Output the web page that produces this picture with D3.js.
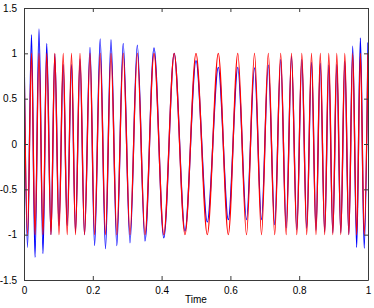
<!DOCTYPE html>
<html>
<head>
<meta charset="utf-8">
<script src="https://cdnjs.cloudflare.com/ajax/libs/d3/7.8.5/d3.min.js"></script>
<style>
  body { margin: 0; background: #fff; }
  svg { display: block; font-family: "Liberation Sans", Arial, sans-serif; }
</style>
</head>
<body>
<svg id="chart" width="374" height="308"></svg>
<script>
// extrema of the signal (alternating peak / trough)
const extremaTimes = [
  0, 0.0102, 0.0218, 0.0320, 0.0436, 0.0552, 0.0660, 0.0785, 0.0895, 0.1017,
  0.1140, 0.1256, 0.1381, 0.1497, 0.1628, 0.1759, 0.1919, 0.2052, 0.2215, 0.2369,
  0.2529, 0.2698, 0.2884, 0.3081, 0.3294, 0.3517, 0.3779, 0.4064, 0.4366, 0.4680,
  0.5, 0.5328, 0.5648, 0.5939, 0.6215, 0.6468, 0.6701, 0.6904, 0.7102, 0.7288,
  0.7462, 0.7622, 0.7776, 0.7930, 0.8076, 0.8218, 0.8358, 0.8488, 0.8613, 0.8741,
  0.8860, 0.8977, 0.9093, 0.9209, 0.9326, 0.9442, 0.9555, 0.9671, 0.9779, 0.9890,
  1.0
];

// red: clean signal
const redValues = [
  1, -1, 1, -1, 1, -1, 1, -1, 1, -1,
  1, -1, 1, -1, 1, -1, 1, -1, 1, -1,
  1, -1, 1, -1, 1, -1, 1, -1, 1, -1,
  1, -1, 1, -1, 1, -1, 1, -1, 1, -1,
  1, -1, 1, -1, 1, -1, 1, -1, 1, -1,
  1, -1, 1, -1, 1, -1, 1, -1, 1, -1,
  1
];

// blue: approximation
const blueValues = [
  1.12, -1.14, 1.205, -1.25, 1.27, -1.21, 1.11, -1.0, 0.99, -0.9,
  0.875, -0.9, 0.875, -0.97, 0.935, -1.0, 1.065, -1.12, 1.16, -1.155,
  1.15, -1.12, 1.11, -1.09, 1.09, -1.07, 1.06, -1.035, 1.0, -0.96,
  0.92, -0.86, 0.845, -0.835, 0.845, -0.835, 0.84, -0.835, 0.87, -0.89,
  0.93, -0.925, 0.965, -0.945, 0.93, -0.93, 0.9, -0.95, 0.89, -0.97,
  0.87, -0.98, 0.875, -0.98, 0.91, -1.0, 1.08, -1.14, 1.17, -1.15,
  1.12
];

const xTicks = [0, 0.2, 0.4, 0.6, 0.8, 1];
const yTicks = [-1.5, -1, -0.5, 0, 0.5, 1, 1.5];

const margin = { left: 24, top: 8, right: 6, bottom: 28 };
const W = 374, H = 308;
const svg = d3.select("#chart");

const x = d3.scaleLinear().domain([0, 1]).range([margin.left, W - margin.right]);
const y = d3.scaleLinear().domain([-1.5, 1.5]).range([H - margin.bottom, margin.top]);

svg.append("defs").append("clipPath").attr("id", "plot")
  .append("rect")
  .attr("x", x(0)).attr("y", y(1.5))
  .attr("width", x(1) - x(0)).attr("height", y(-1.5) - y(1.5));

const line = d3.line()
  .x(d => x(d[0]))
  .y(d => y(d[1]))
  .curve(d3.curveMonotoneX);

const blue = extremaTimes.map((t, i) => [t, blueValues[i]]);
const red = extremaTimes.map((t, i) => [t, redValues[i]]);

const g = svg.append("g").attr("clip-path", "url(#plot)");
g.append("path").attr("d", line(blue))
  .attr("fill", "none").attr("stroke", "#0000ff").attr("stroke-width", 1.3);
g.append("path").attr("d", line(red))
  .attr("fill", "none").attr("stroke", "#ff0000").attr("stroke-width", 1.3);

// axes, ticks pointing inward like matlab
const tickLen = 4;
const axisColor = "#3a3a3a";

svg.append("g")
  .attr("transform", `translate(0,${y(-1.5)})`)
  .call(d3.axisBottom(x).tickValues(xTicks).tickSizeInner(-tickLen).tickSizeOuter(0)
    .tickPadding(7).tickFormat(d3.format("~g")));

svg.append("g")
  .attr("transform", `translate(0,${y(1.5)})`)
  .call(d3.axisTop(x).tickValues(xTicks).tickSizeInner(-tickLen).tickSizeOuter(0)
    .tickFormat(""));

svg.append("g")
  .attr("transform", `translate(${x(0)},0)`)
  .call(d3.axisLeft(y).tickValues(yTicks).tickSizeInner(-tickLen).tickSizeOuter(0)
    .tickPadding(7).tickFormat(d => d3.format("~g")(d).replace("−", "-")));

svg.append("g")
  .attr("transform", `translate(${x(1)},0)`)
  .call(d3.axisRight(y).tickValues(yTicks).tickSizeInner(-tickLen).tickSizeOuter(0)
    .tickFormat(""));

svg.selectAll(".domain").attr("stroke", axisColor);
svg.selectAll(".tick line").attr("stroke", axisColor);
svg.selectAll(".tick text").attr("fill", "#000").style("font-size", "10px");

svg.append("text")
  .attr("x", x(0.5)).attr("y", H - 5)
  .attr("text-anchor", "middle")
  .style("font-size", "10px")
  .text("Time");
</script>
</body>
</html>
